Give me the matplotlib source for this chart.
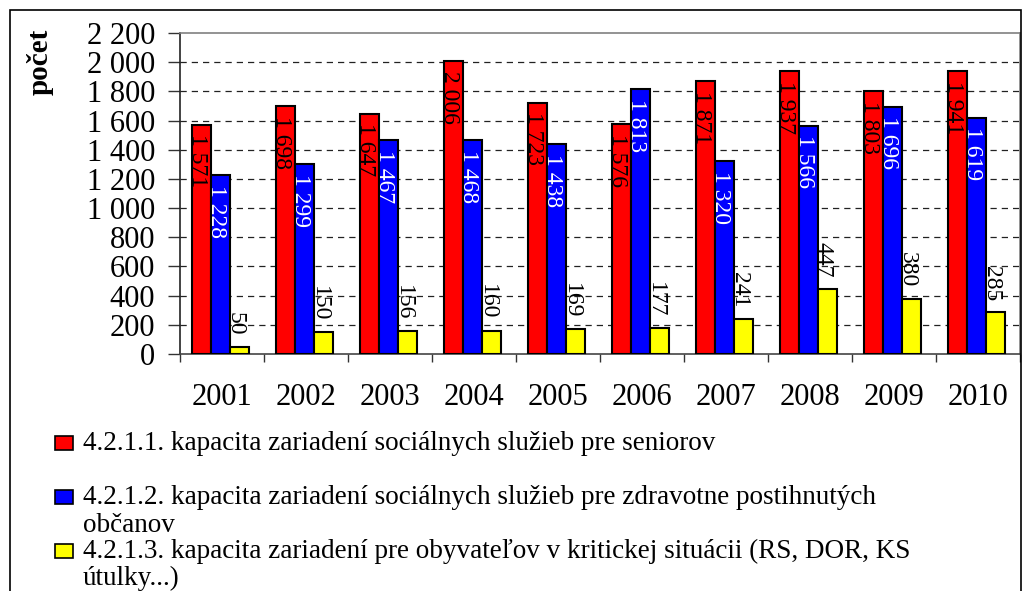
import numpy as np
import matplotlib.pyplot as plt
from matplotlib.patches import Rectangle

years = ['2001', '2002', '2003', '2004', '2005', '2006', '2007', '2008', '2009', '2010']
seniori = [1571, 1698, 1647, 2006, 1723, 1576, 1871, 1937, 1803, 1941]
postihnuti = [1228, 1299, 1467, 1468, 1438, 1813, 1320, 1566, 1696, 1619]
krizove = [50, 150, 156, 160, 169, 177, 241, 447, 380, 285]

legend_lines = [
    ['4.2.1.1. kapacita zariadení sociálnych služieb pre seniorov'],
    ['4.2.1.2. kapacita zariadení sociálnych služieb pre zdravotne postihnutých', 'občanov'],
    ['4.2.1.3. kapacita zariadení pre obyvateľov v kritickej situácii (RS, DOR, KS', 'útulky...)'],
]
colors = ['#ff0000', '#0000ff', '#ffff00']
label_colors = ['black', 'white', 'black']

plt.rcParams['font.family'] = ['Liberation Serif', 'DejaVu Serif']

W, H = 1023, 591
fig = plt.figure(figsize=(W / 100, H / 100), dpi=100)


def fx(px):
    return px / W


def fy(py):
    return 1 - py / H


ax = fig.add_axes([fx(180), fy(354), fx(1020) - fx(180), fy(33) - fy(354)])

x = np.arange(len(years))
width = 0.225
series = [seniori, postihnuti, krizove]
for i, vals in enumerate(series):
    pos = x + (i - 1) * width - 0.02
    ax.bar(pos, vals, width, color=colors[i], edgecolor='black', linewidth=1.5, zorder=3)
    for xp, v in zip(pos, vals):
        s = f'{v:,}'.replace(',', ' ')
        if i < 2:
            ax.annotate(s, (xp, v), xytext=(-3, -7), textcoords='offset points',
                        rotation=270, ha='center', va='top', fontsize=17,
                        color=label_colors[i], zorder=4)
        else:
            ax.annotate(s, (xp, v), xytext=(-3, 8), textcoords='offset points',
                        rotation=270, ha='center', va='bottom', fontsize=17,
                        color=label_colors[i], zorder=4)

ax.set_xlim(-0.5, len(years) - 0.5)
ax.set_ylim(0, 2200)
yt = np.arange(0, 2201, 200)
ax.set_yticks(yt)
ax.set_yticklabels([f'{v:,}'.replace(',', ' ') for v in yt])
ax.set_xticks(x)
ax.set_xticklabels(years)
ax.set_xticks(np.arange(-0.5, len(years), 1), minor=True)
ax.tick_params(axis='x', which='major', length=0, pad=21, labelsize=22)
ax.tick_params(axis='x', which='minor', length=6, width=1, color='#333333')
ax.tick_params(axis='y', length=9, width=1, pad=9, labelsize=22, color='#333333')

for yv in yt[1:-1]:
    ax.axhline(yv, color='#222222', linestyle=(0, (5, 4)), linewidth=0.9, zorder=1)

ax.spines['top'].set_color('#808080')
ax.spines['right'].set_color('#808080')
ax.spines['left'].set_color('#222222')
ax.spines['bottom'].set_color('#444444')
for sp in ax.spines.values():
    sp.set_linewidth(1.2)

ax.set_ylabel('počet', fontsize=21, fontweight='bold')
ax.yaxis.set_label_coords(-0.151, 0.91)

# legend drawn by hand to keep the Excel line layout
box_y = [443, 497, 551]
line_y = [[443], [497, 526], [551, 578]]
for c, lines, by, ys in zip(colors, legend_lines, box_y, line_y):
    fig.add_artist(Rectangle((fx(55), fy(by + 7)), fx(18), fy(by - 7) - fy(by + 7),
                             facecolor=c, edgecolor='black', linewidth=1.2,
                             transform=fig.transFigure))
    for t, ty in zip(lines, ys):
        fig.text(fx(83), fy(ty), t, fontsize=19.5, va='center', ha='left')

fig.add_artist(Rectangle((fx(10), -0.05), fx(1021) - fx(10), fy(10) + 0.05,
                         facecolor='none', edgecolor='black', linewidth=1.2,
                         transform=fig.transFigure))

fig.savefig('out.png', dpi=100)
